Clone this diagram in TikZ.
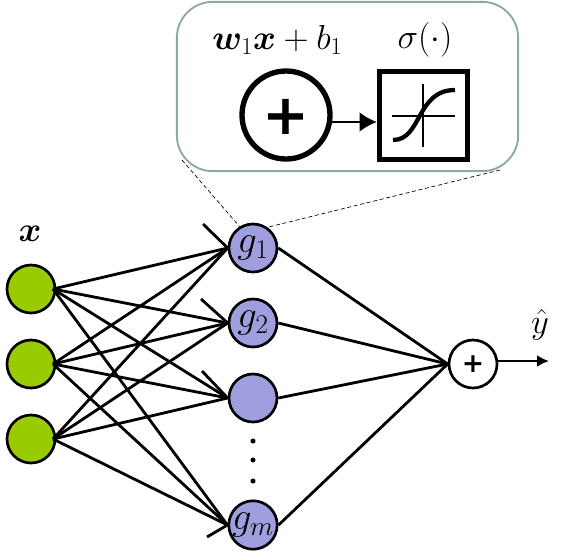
\documentclass[tikz,border=0pt]{standalone}
\usepackage{fix-cm}
\usepackage{amsmath}
\usepackage{amssymb}
\usepackage{bm}
\usepackage{fontspec}
\usepackage{xcolor}
\usetikzlibrary{arrows.meta}
\newfontfamily\plusfont{DejaVu Sans}
\definecolor{inputgreen}{HTML}{99CC00}
\definecolor{unitblue}{HTML}{9F9FDF}
\definecolor{boxgray}{HTML}{8AA8A8}
\tikzset{
  inputnode/.style = {circle, draw, line width=2pt, fill=inputgreen, minimum size=36pt, inner sep=0pt},
  unitnode/.style  = {circle, draw, line width=2pt, fill=unitblue, minimum size=36pt, inner sep=0pt, font=\fontsize{29}{29}\selectfont},
  sumnode/.style   = {circle, draw, line width=2pt, fill=white, minimum size=36pt, inner sep=0pt},
  labeltext/.style = {inner sep=0pt, font=\fontsize{26}{26}\selectfont},
  wire/.style      = {line width=2.1pt},
  zoomline/.style  = {thin, densely dashed, line width=0.5pt}
}
\begin{document}
\begin{tikzpicture}[x=0.75pt, y=-0.75pt]
\useasboundingbox (0,0) rectangle (570,551);
\coordinate (L) at (182,160);
\coordinate (R) at (500,170);
\coordinate (S1) at (203,224);
\coordinate (S2) at (201,299);
\coordinate (S3) at (202,371);
\coordinate (S4) at (207,537);
\coordinate (Y) at (549,361);
\node[draw=boxgray, line width=1.4pt, fill=white, rounded corners=27pt, minimum width=256pt, minimum height=127pt, inner sep=0pt] (zoom) at (347.5,86.5) {};
\node[circle, draw, line width=4pt, minimum size=66pt, inner sep=0pt] (add) at (286,115) {};
\node[inner sep=0pt] (addsign) at (286,117) {\plusfont\bfseries\fontsize{42}{42}\selectfont +};
\node[draw, line width=4pt, minimum size=66pt, inner sep=0pt] (act) at (423.5,115.5) {};
\node[labeltext] (affine) at (277.5,40) {$\bm{w}_1\bm{x}+b_1$};
\node[labeltext] (sigma) at (425,40) {$\sigma(\cdot)$};
\node[labeltext] (xlabel) at (30,234) {$\bm{x}$};
\node[labeltext] (ylabel) at (540,325) {$\hat{y}$};
\node[inputnode] (x1) at (31,289) {};
\node[inputnode] (x2) at (31,364) {};
\node[inputnode] (x3) at (31,439) {};
\node[unitnode] (g1) at (253,248) {$g_1$};
\node[unitnode] (g2) at (253,323) {$g_2$};
\node[unitnode] (g3) at (253,398) {};
\node[unitnode] (gm) at (253,525) {$g_m$};
\node[sumnode] (sum) at (473,364) {\plusfont\bfseries\fontsize{20}{20}\selectfont +};
\coordinate (a1) at ([xshift=-2.5pt]x1.east);
\coordinate (a2) at ([xshift=-2.5pt]x2.east);
\coordinate (a3) at ([xshift=-2.5pt]x3.east);
\coordinate (b1) at ([xshift=-2pt]add.east |- 0,122);
\draw[zoomline] (L)--(g1.122);
\draw[zoomline] (R)--(g1.55);
\draw[line width=2pt, -{Latex[length=13pt,width=15pt]}] (b1)--(act.west |- 0,122);
\draw[line width=1pt] (392,116)--(455,116);
\draw[line width=1pt] (423,84)--(423,147);
\draw[line width=3.2pt] (393,140) .. controls (422,140) and (416,90) .. (455,90);
\draw[wire] (a1)--(g1.west);
\draw[wire] (a1)--(g2.west);
\draw[wire] (a1)--(g3.west);
\draw[wire] (a1)--(gm.west);
\draw[wire] (a2)--(g1.west);
\draw[wire] (a2)--(g2.west);
\draw[wire] (a2)--(g3.west);
\draw[wire] (a2)--(gm.west);
\draw[wire] (a3)--(g1.west);
\draw[wire] (a3)--(g2.west);
\draw[wire] (a3)--(g3.west);
\draw[wire] (a3)--(gm.west);
\draw[wire] (S1)--(g1.west);
\draw[wire] (S2)--(g2.west);
\draw[wire] (S3)--(g3.west);
\draw[wire] (S4)--(gm.west);
\draw[wire] (g1.east)--(sum.west);
\draw[wire] (g2.east)--(sum.west);
\draw[wire] (g3.east)--(sum.west);
\draw[wire] (gm.east)--(sum.west);
\draw[wire, -{Latex[length=9pt,width=9pt]}] (sum.east |- Y)--(Y);
\fill (253,441) circle (1.9pt);
\fill (253,460) circle (1.9pt);
\fill (253,481) circle (1.9pt);
\end{tikzpicture}
\end{document}
